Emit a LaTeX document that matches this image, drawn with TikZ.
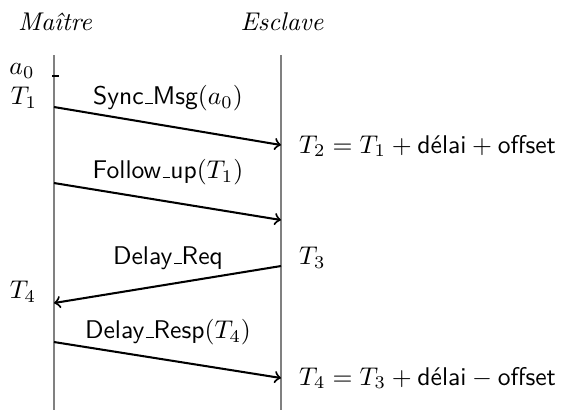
\documentclass[tikz,border=0pt]{standalone}
\newcommand\myus{\leavevmode\kern.06em\vbox{\hrule width.3em}}
\begin{document}
\begin{tikzpicture}[x=0.3906pt,y=-0.3906pt,
  life/.style={draw=gray,line width=0.8pt},
  msg/.style={draw=black,line width=0.8pt,->},
  lbl/.style={inner sep=1pt}]
\useasboundingbox (0,0) rectangle (563,410);
\node[lbl] (m) at (55,22) {\itshape Maître};
\node[lbl] (e) at (282,22) {\itshape Esclave};
\coordinate (mt) at (54,55); \coordinate (mb) at (54,410);
\coordinate (et) at (281,55); \coordinate (eb) at (281,410);
\draw[life] (mt) -- (mb);
\draw[life] (et) -- (eb);
\coordinate (t0a) at (52,76); \coordinate (t0b) at (59,76);
\draw[line width=0.8pt] (t0a) -- (t0b);
\node[lbl] (a0) at (22,71) {$a_0$};
\node[lbl] (T1) at (24,98) {$T_1$};
\node[lbl] (T4l) at (23,292) {$T_4$};
\coordinate (s1) at (54,107); \coordinate (r1) at (281,145);
\coordinate (s2) at (54,183); \coordinate (r2) at (281,220);
\coordinate (s3) at (281,266); \coordinate (r3) at (54,303);
\coordinate (s4) at (54,342); \coordinate (r4) at (281,378);
\draw[msg] (s1) -- (r1);
\draw[msg] (s2) -- (r2);
\draw[msg] (s3) -- (r3);
\draw[msg] (s4) -- (r4);
\node[lbl] (l1) at (168,98) {$\textsf{Sync\myus Msg}(a_0)$};
\node[lbl] (l2) at (168,172) {$\textsf{Follow\myus up}(T_1)$};
\node[lbl] (l3) at (168,258) {$\textsf{Delay\myus Req}$};
\node[lbl] (l4) at (168,332) {$\textsf{Delay\myus Resp}(T_4)$};
\node[lbl,anchor=west] (T2) at (296,146) {$T_2 = T_1 + \textsf{délai} + \textsf{offset}$};
\node[lbl,anchor=west] (T3) at (296,258) {$T_3$};
\node[lbl,anchor=west] (T4r) at (296,378) {$T_4 = T_3 + \textsf{délai} - \textsf{offset}$};
\end{tikzpicture}
\end{document}
